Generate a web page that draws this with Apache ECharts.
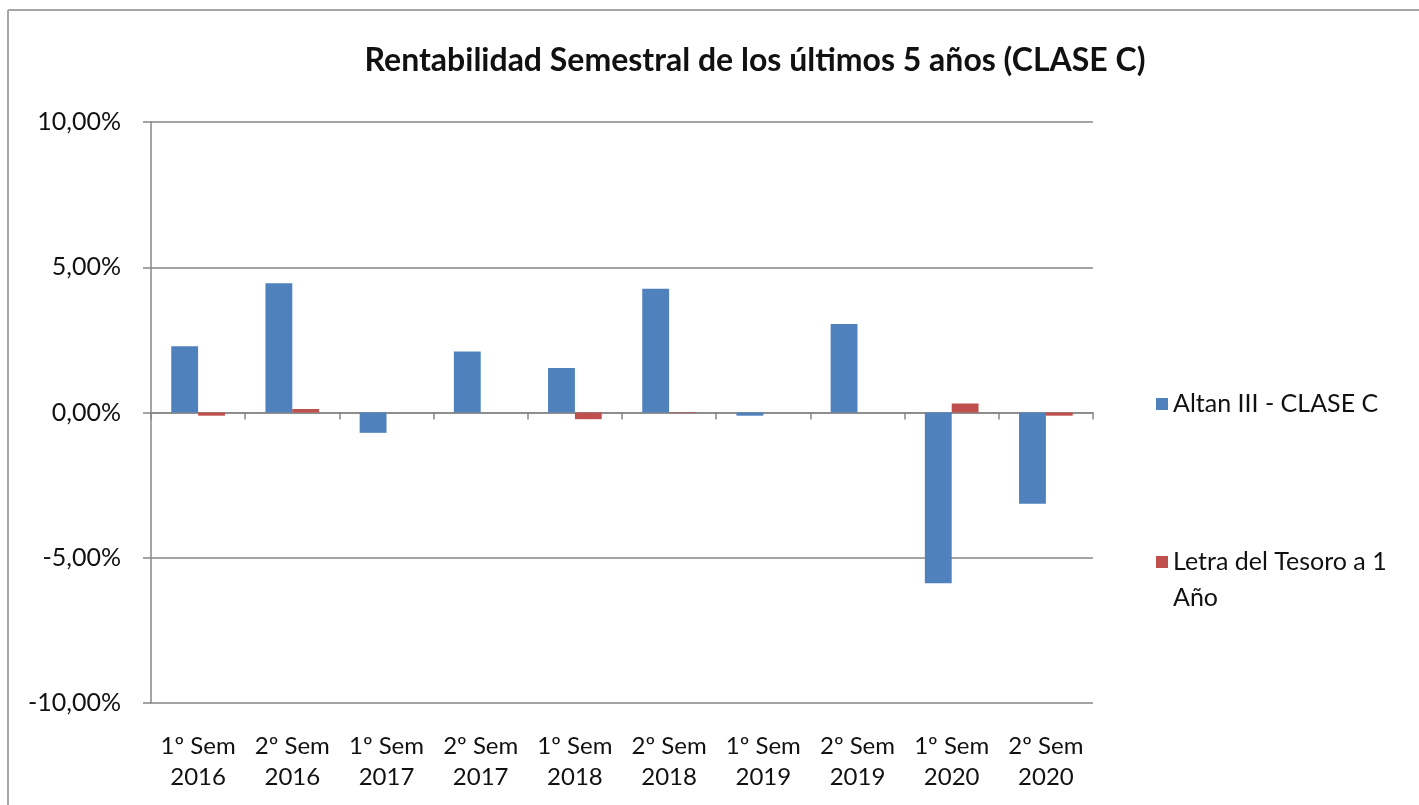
<!DOCTYPE html>
<html>
<head>
<meta charset="utf-8">
<script src="https://cdn.jsdelivr.net/npm/echarts@6/dist/echarts.min.js"></script>
<style>html,body{margin:0;padding:0;background:#fff}#c{width:1419px;height:805px}</style>
</head>
<body>
<div id="c"></div>
<script>
const categories = ['1º Sem\n2016','2º Sem\n2016','1º Sem\n2017','2º Sem\n2017','1º Sem\n2018','2º Sem\n2018','1º Sem\n2019','2º Sem\n2019','1º Sem\n2020','2º Sem\n2020'];
const altanValues = [2.28, 4.45, -0.70, 2.10, 1.53, 4.26, -0.11, 3.05, -5.88, -3.14];
const letraValues = [-0.11, 0.12, 0.00, 0.00, -0.23, -0.02, 0.00, 0.00, 0.31, -0.11];
const yTicks = {min: -10, max: 10, interval: 5};
const seriesNames = ['Altan III - CLASE C', 'Letra del Tesoro a 1 Año'];

const FONT = 'Lato';
const chart = echarts.init(document.getElementById('c'));
chart.setOption({
  animation: false,
  backgroundColor: '#fff',
  title: {
    text: 'Rentabilidad Semestral de los últimos 5 años (CLASE C)',
    left: 750, textAlign: 'center', top: 40,
    textStyle: {fontFamily: FONT, fontWeight: 'bold', fontSize: 32, color: '#111'}
  },
  legend: [{
    data: [seriesNames[0]], orient: 'vertical', left: 1156, top: 386, padding: 0,
    itemWidth: 12, itemHeight: 12, icon: 'rect',
    textStyle: {fontFamily: FONT, fontSize: 25, color: '#111', lineHeight: 36}
  }, {
    data: [seriesNames[1]], orient: 'vertical', left: 1156, top: 508, padding: 0,
    itemWidth: 12, itemHeight: 12, icon: 'rect',
    formatter: function () { return '\nLetra del Tesoro a 1\nAño'; },
    textStyle: {fontFamily: FONT, fontSize: 25, color: '#111', lineHeight: 36}
  }],
  grid: {left: 151, right: 326, top: 122, bottom: 102, containLabel: false},
  xAxis: [{
    type: 'category', data: categories,
    axisLine: {show: true, onZero: true, lineStyle: {color: '#868686', width: 1.5}},
    axisTick: {show: true, length: 7, lineStyle: {color: '#868686', width: 1.5}},
    axisLabel: {show: false}, splitLine: {show: false}
  }, {
    type: 'category', data: categories, position: 'bottom',
    axisLine: {show: false, onZero: false}, axisTick: {show: false},
    axisLabel: {show: true, interval: 0, margin: 28, fontFamily: FONT, fontSize: 24, color: '#111', lineHeight: 31}
  }],
  yAxis: {
    type: 'value', min: yTicks.min, max: yTicks.max, interval: yTicks.interval,
    axisLine: {show: true, lineStyle: {color: '#868686', width: 1.5}},
    axisTick: {show: true, length: 8, lineStyle: {color: '#868686', width: 1.5}},
    splitLine: {show: true, lineStyle: {color: '#868686', width: 1.5}},
    axisLabel: {
      margin: 30, fontFamily: FONT, fontSize: 25, color: '#111',
      formatter: function (v) { return v.toFixed(2).replace('.', ',') + '%'; }
    }
  },
  series: [{
    name: seriesNames[0], type: 'bar', data: altanValues, xAxisIndex: 0,
    barGap: '0%', barCategoryGap: '43%', itemStyle: {color: '#4F81BD'}
  }, {
    name: seriesNames[1], type: 'bar', data: letraValues, xAxisIndex: 0,
    barGap: '0%', barCategoryGap: '43%', itemStyle: {color: '#C0504D'}
  }],
  graphic: [
    {type: 'line', shape: {x1: 8, y1: 10, x2: 1419, y2: 10}, style: {stroke: '#a6a6a6', lineWidth: 2}},
    {type: 'line', shape: {x1: 8, y1: 10, x2: 8, y2: 805}, style: {stroke: '#a6a6a6', lineWidth: 2}}
  ]
});
</script>
</body>
</html>
